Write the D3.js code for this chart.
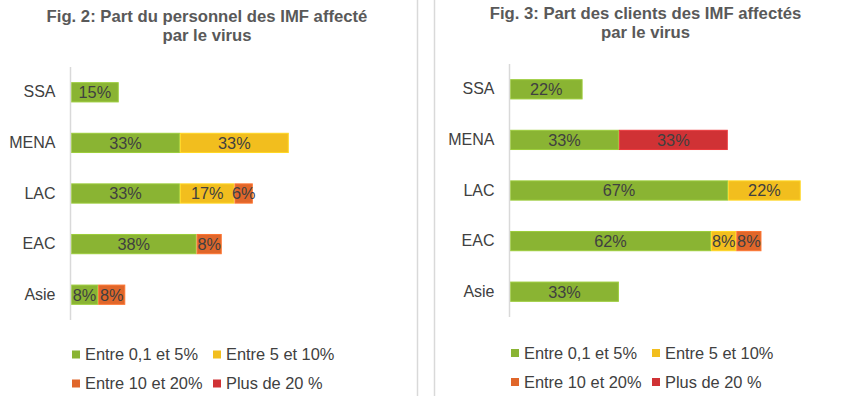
<!DOCTYPE html>
<html>
<head>
<meta charset="utf-8">
<script src="https://cdn.jsdelivr.net/npm/d3@7"></script>
<style>
  html, body { margin: 0; padding: 0; background: #ffffff; }
  svg { display: block; font-family: "Liberation Sans", Arial, sans-serif; }
</style>
</head>
<body>
<svg id="chart" width="850" height="396"></svg>
<script>
// ---- data ----
const categories = ["SSA", "MENA", "LAC", "EAC", "Asie"];
const seriesNames = ["Entre 0,1 et 5%", "Entre 5 et 10%", "Entre 10 et 20%", "Plus de 20 %"];
const seriesColors = ["#8ab433", "#f2be1e", "#e0662a", "#d03235"];

// Fig. 2: staff affected (% per category, per series)
const staffLow    = [14.6, 33.3, 33.3, 38.4, 8.3];
const staffMid    = [0,    33.3, 16.7, 0,    0];
const staffHigh   = [0,    0,    5.6,  7.7,  8.3];
const staffTop    = [0,    0,    0,    0,    0];

// Fig. 3: clients affected
const clientsLow  = [22.2, 33.3, 66.7, 61.5, 33.3];
const clientsMid  = [0,    0,    22.2, 7.7,  0];
const clientsHigh = [0,    0,    0,    7.7,  0];
const clientsTop  = [0,    33.3, 0,    0,    0];

const titles = [
  ["Fig. 2: Part du personnel des IMF affecté", "par le virus"],
  ["Fig. 3: Part des clients des IMF affectés", "par le virus"]
];

// ---- drawing ----
const svg = d3.select("#chart");
const textColor = "#404040";

// panel separators
[417.5, 434.5].forEach(x => {
  svg.append("line").attr("x1", x).attr("x2", x).attr("y1", 0).attr("y2", 396)
    .attr("stroke", "#d9d9d9").attr("stroke-width", 1.5);
});

function drawPanel(cfg) {
  const g = svg.append("g");
  const series = cfg.series;
  const x = d3.scaleLinear().domain([0, 100]).range([cfg.x0, cfg.x0 + 327]);
  const y = d3.scaleBand().domain(categories).range([cfg.yTop, cfg.yBottom]).paddingInner(0.6).paddingOuter(0.3);

  // title
  const t = g.append("text").attr("text-anchor", "middle")
    .attr("font-size", 16.7).attr("font-weight", "bold").attr("fill", "#595959");
  t.append("tspan").attr("x", cfg.titleX).attr("y", cfg.titleY).text(cfg.title[0]);
  t.append("tspan").attr("x", cfg.titleX).attr("y", cfg.titleY + 19).text(cfg.title[1]);

  // stacked data
  const rows = categories.map((c, i) => {
    let acc = 0;
    return series.map((s, k) => {
      const seg = { cat: c, k, v: s[i], x0: acc, x1: acc + s[i] };
      acc += s[i];
      return seg;
    }).filter(d => d.v > 0);
  }).flat();

  g.selectAll("rect.bar").data(rows).join("rect")
    .attr("class", "bar")
    .attr("x", d => x(d.x0) + 0.5)
    .attr("y", d => y(d.cat) + 0.5)
    .attr("width", d => x(d.x1) - x(d.x0) - 1)
    .attr("height", y.bandwidth() - 1)
    .attr("fill", d => seriesColors[d.k])
    .attr("stroke", d => d3.color(seriesColors[d.k]).brighter(0.35))
    .attr("stroke-width", 1);

  g.selectAll("text.lbl").data(rows).join("text")
    .attr("class", "lbl")
    .attr("x", d => (x(d.x0) + x(d.x1)) / 2)
    .attr("y", d => y(d.cat) + y.bandwidth() / 2)
    .attr("dy", "0.36em")
    .attr("text-anchor", "middle")
    .attr("font-size", 16.3)
    .attr("fill", textColor)
    .text(d => Math.round(d.v) + "%");

  // axis
  const axis = d3.axisLeft(y).tickSize(0).tickPadding(15);
  const ag = g.append("g").attr("transform", `translate(${cfg.x0 - 0.5},0)`).call(axis);
  ag.select(".domain").attr("stroke", "#d9d9d9").attr("stroke-width", 1.5)
    .attr("d", `M0,${cfg.yTop}V${cfg.yBottom}`);
  ag.selectAll(".tick text").attr("font-size", 16).attr("fill", textColor)
    .attr("font-family", "Liberation Sans, Arial, sans-serif");

  // legend
  const lg = g.append("g");
  seriesNames.forEach((name, k) => {
    const col = k % 2, row = Math.floor(k / 2);
    const lx = cfg.legendX + col * 141;
    const ly = cfg.legendY + row * 29;
    lg.append("rect").attr("x", lx).attr("y", ly - 4).attr("width", 8).attr("height", 8)
      .attr("fill", seriesColors[k]);
    lg.append("text").attr("x", lx + 13).attr("y", ly).attr("dy", "0.36em")
      .attr("font-size", 16.4).attr("fill", textColor).text(name);
  });
}

drawPanel({
  title: titles[0], titleX: 207, titleY: 21.5,
  series: [staffLow, staffMid, staffHigh, staffTop],
  x0: 71, yTop: 67, yBottom: 320,
  legendX: 72, legendY: 354.5
});

drawPanel({
  title: titles[1], titleX: 645.5, titleY: 19,
  series: [clientsLow, clientsMid, clientsHigh, clientsTop],
  x0: 510, yTop: 64, yBottom: 317,
  legendX: 511, legendY: 353
});
</script>
</body>
</html>
